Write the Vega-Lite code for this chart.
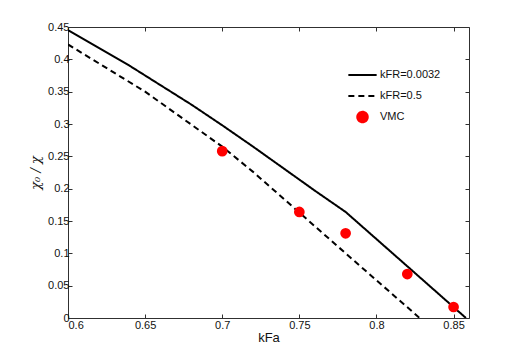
{
  "$schema": "https://vega.github.io/schema/vega-lite/v6.json",
  "width": 401,
  "height": 291,
  "autosize": {"type": "none"},
  "padding": {"left": 68, "top": 27, "right": 49, "bottom": 40},
  "background": "white",
  "config": {
    "font": "Liberation Sans",
    "view": {"stroke": "#303030", "strokeWidth": 1},
    "axis": {
      "grid": false,
      "domain": false,
      "tickSize": -4,
      "tickColor": "#303030",
      "labelFontSize": 11,
      "labelColor": "#111111",
      "labelFont": "Liberation Sans",
      "titleFont": "Liberation Sans",
      "titleFontWeight": "normal",
      "titleColor": "#111111"
    }
  },
  "data": {
    "values": [
      {"x": 0.6, "y": 0.445, "series": "kFR=0.0032"},
      {"x": 0.64, "y": 0.39, "series": "kFR=0.0032"},
      {"x": 0.68, "y": 0.33, "series": "kFR=0.0032"},
      {"x": 0.7, "y": 0.298, "series": "kFR=0.0032"},
      {"x": 0.72, "y": 0.265, "series": "kFR=0.0032"},
      {"x": 0.74, "y": 0.231, "series": "kFR=0.0032"},
      {"x": 0.76, "y": 0.197, "series": "kFR=0.0032"},
      {"x": 0.78, "y": 0.164, "series": "kFR=0.0032"},
      {"x": 0.82, "y": 0.08, "series": "kFR=0.0032"},
      {"x": 0.858, "y": 0.0, "series": "kFR=0.0032"},
      {"x": 0.6, "y": 0.423, "series": "kFR=0.5"},
      {"x": 0.65, "y": 0.35, "series": "kFR=0.5"},
      {"x": 0.7, "y": 0.265, "series": "kFR=0.5"},
      {"x": 0.72, "y": 0.226, "series": "kFR=0.5"},
      {"x": 0.75, "y": 0.163, "series": "kFR=0.5"},
      {"x": 0.78, "y": 0.1, "series": "kFR=0.5"},
      {"x": 0.828, "y": 0.0, "series": "kFR=0.5"},
      {"x": 0.7, "y": 0.258, "series": "VMC"},
      {"x": 0.75, "y": 0.164, "series": "VMC"},
      {"x": 0.78, "y": 0.131, "series": "VMC"},
      {"x": 0.82, "y": 0.068, "series": "VMC"},
      {"x": 0.85, "y": 0.017, "series": "VMC"}
    ]
  },
  "resolve": {"axis": {"x": "independent", "y": "independent"}},
  "layer": [
    {
      "transform": [{"filter": "datum.series !== 'VMC'"}],
      "mark": {"type": "line", "strokeWidth": 2, "clip": true},
      "encoding": {
        "x": {
          "field": "x", "type": "quantitative",
          "scale": {"domain": [0.6, 0.86], "nice": false, "zero": false},
          "axis": {"orient": "bottom", "title": "kFa", "titleFontSize": 13, "values": [0.6, 0.65, 0.7, 0.75, 0.8, 0.85], "format": ".2~f", "labelPadding": 5, "titlePadding": 1}
        },
        "y": {
          "field": "y", "type": "quantitative",
          "scale": {"domain": [0, 0.45], "nice": false},
          "axis": {"orient": "left", "title": "χ₀ / χ", "titleFont": "DejaVu Serif", "titleFontStyle": "italic", "titleFontSize": 13, "values": [0, 0.05, 0.1, 0.15, 0.2, 0.25, 0.3, 0.35, 0.4, 0.45], "format": ".2~f", "labelPadding": 3, "titlePadding": 5}
        },
        "color": {
          "field": "series", "type": "nominal",
          "scale": {"domain": ["kFR=0.0032", "kFR=0.5", "VMC"], "range": ["#000000", "#000000", "#ff0000"]},
          "legend": {
            "title": null,
            "orient": "none",
            "legendX": 279,
            "legendY": 32.5,
            "padding": 0,
            "symbolSize": 800,
            "rowPadding": -14,
            "labelOffset": 2,
            "labelFontSize": 11,
            "labelColor": "#111111",
            "encode": {
              "symbols": {
                "update": {
                  "shape": {"signal": "datum.label === 'VMC' ? 'circle' : 'stroke'"},
                  "size": {"signal": "datum.label === 'VMC' ? 110 : 800"},
                  "fill": {"signal": "datum.label === 'VMC' ? '#ff0000' : 'transparent'"},
                  "stroke": {"signal": "datum.label === 'VMC' ? '#ff0000' : '#000000'"},
                  "strokeDash": {"signal": "datum.label === 'kFR=0.5' ? [6, 4] : [1, 0]"},
                  "strokeWidth": {"value": 2},
                  "opacity": {"value": 1}
                }
              }
            }
          }
        },
        "strokeDash": {
          "field": "series", "type": "nominal",
          "scale": {"domain": ["kFR=0.0032", "kFR=0.5", "VMC"], "range": [[1, 0], [6, 4], [1, 0]]},
          "legend": null
        }
      }
    },
    {
      "transform": [{"filter": "datum.series === 'VMC'"}],
      "mark": {"type": "point", "filled": true, "size": 115, "opacity": 1, "shape": "circle"},
      "encoding": {
        "x": {
          "field": "x", "type": "quantitative",
          "axis": {"orient": "top", "title": null, "labels": false, "values": [0.6, 0.65, 0.7, 0.75, 0.8, 0.85]}
        },
        "y": {
          "field": "y", "type": "quantitative",
          "axis": {"orient": "right", "title": null, "labels": false, "values": [0, 0.05, 0.1, 0.15, 0.2, 0.25, 0.3, 0.35, 0.4, 0.45]}
        },
        "color": {"field": "series", "type": "nominal", "legend": null}
      }
    }
  ]
}
